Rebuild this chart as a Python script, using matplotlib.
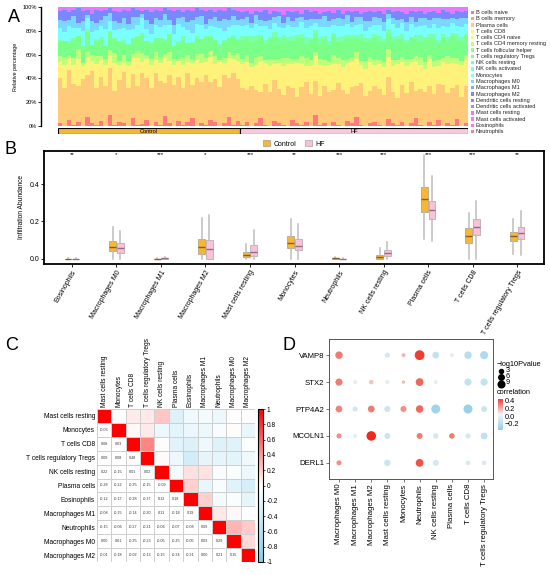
import numpy as np
import matplotlib
matplotlib.use("Agg")
import matplotlib.pyplot as plt
from matplotlib.patches import Patch, Rectangle
from matplotlib.colors import LinearSegmentedColormap, TwoSlopeNorm, Normalize, hsv_to_rgb
from matplotlib.lines import Line2D

# ---------------- DATA ----------------
cell_types = ["B cells naive", "B cells memory", "Plasma cells", "T cells CD8", "T cells CD4 naive",
              "T cells CD4 memory resting", "T cells follicular helper", "T cells regulatory Tregs",
              "NK cells resting", "NK cells activated", "Monocytes", "Macrophages M0", "Macrophages M1",
              "Macrophages M2", "Dendritic cells resting", "Dendritic cells activated", "Mast cells resting",
              "Mast cells activated", "Eosinophils", "Neutrophils"]

# Panel A: per-sample fractions (percent, before normalisation) for the visible cell types
ctrl_bn = [2,0,5,1,3,0,7,2,1,4, 0,9,1,3,2,0,6,1,2,5, 0,3,1,8,2,0,4,1,3,6, 0,2,1,5,3,0,2,7,1,4]
ctrl_pl = [34,29,38,31,27,36,33,40,28,35, 31,37,26,33,39,30,35,28,41,32, 29,36,34,27,38,31,33,30,37,26, 35,32,39,29,34,28,36,31,40,33]
ctrl_c8 = [12,18,9,15,21,10,14,8,19,13, 16,11,22,12,7,17,13,20,9,15, 18,10,14,21,11,16,12,19,8,17, 13,15,10,20,12,18,9,16,11,14]
ctrl_c4 = [4,6,3,5,7,2,5,4,6,3, 5,4,8,3,6,4,2,5,7,3, 4,6,5,3,7,4,2,6,5,3, 4,7,3,5,6,2,4,5,3,6]
ctrl_tr = [11,13,9,14,10,12,15,8,12,13, 10,14,11,16,9,12,13,10,14,11, 12,9,15,11,13,10,12,14,9,13, 11,12,16,10,13,9,12,11,14,10]
ctrl_nk = [1,0,2,1,0,1,3,0,1,2, 0,1,1,0,2,1,0,1,2,0, 1,1,0,2,1,0,1,3,0,1, 2,0,1,1,0,2,1,0,1,1]
ctrl_mo = [9,7,11,8,6,12,8,10,7,9, 13,8,6,10,9,11,7,8,12,9, 6,10,8,11,7,9,13,8,10,7, 9,11,6,8,10,12,7,9,8,11]
ctrl_m0 = [6,8,5,9,4,7,3,8,6,5, 10,6,7,4,8,5,9,6,3,7, 8,5,6,9,4,7,5,8,6,10, 5,7,4,6,8,5,9,6,7,4]
ctrl_m2 = [7,9,6,5,11,8,4,6,10,7, 5,4,8,9,6,10,7,5,3,8, 9,6,7,5,8,11,6,4,9,7, 6,5,10,7,4,8,6,9,5,7]
ctrl_ms = [3,2,4,2,1,3,2,5,2,3, 2,1,3,4,2,3,1,2,3,2, 4,2,3,1,2,3,2,4,2,3, 1,2,3,2,4,2,3,1,2,3]

hf_bn = [1,3,0,2,6,1,0,4,2,1, 0,5,2,1,3,0,8,1,2,0, 3,1,0,4,2,7,1,0,2,3, 1,0,5,2,1,3,0,2,6,1, 0,3,1,4,0,2,1,5,0,2]
hf_pl = [27,23,30,25,21,28,24,32,26,22, 29,25,20,27,31,24,26,22,28,25, 23,30,26,21,27,24,29,22,25,28, 26,23,31,24,20,27,25,29,22,26, 24,28,21,26,30,23,27,25,22,28]
hf_c8 = [17,21,14,19,24,15,18,13,20,22, 16,19,25,17,12,21,18,23,15,20, 19,14,17,24,18,21,13,20,22,16, 18,21,15,19,26,17,20,14,23,18, 16,21,19,13,17,22,18,15,24,19]
hf_c4 = [4,5,3,6,4,2,5,4,3,6, 5,4,3,5,6,4,3,5,4,2, 6,4,5,3,4,5,3,6,4,5, 3,4,6,5,3,4,5,2,4,6, 5,3,4,5,3,6,4,5,3,4]
hf_tr = [14,12,16,13,15,11,14,17,13,15, 12,14,16,13,11,15,14,12,16,13, 15,12,14,17,13,11,15,14,12,16, 13,15,12,14,16,13,11,15,14,12, 16,13,15,12,14,11,16,13,15,14]
hf_nk = [3,2,4,3,2,3,1,4,3,2, 3,4,2,3,5,2,3,4,2,3, 1,3,4,2,3,2,4,3,2,3, 4,2,3,3,2,4,3,1,3,4, 2,3,4,2,3,3,2,4,3,2]
hf_mo = [7,8,6,9,7,10,6,7,8,5, 9,7,6,8,7,9,5,8,7,10, 6,8,7,9,6,8,7,5,9,7, 8,6,7,10,6,8,7,9,6,7, 8,5,7,9,6,8,7,6,8,7]
hf_m0 = [5,6,4,7,5,3,6,5,8,4, 6,5,7,4,6,5,3,6,8,5, 4,6,5,7,4,6,5,8,4,6, 5,7,4,5,6,3,7,5,4,6, 5,6,4,7,5,6,4,5,7,5]
hf_m2 = [5,4,7,3,6,8,4,5,3,6, 4,7,5,2,8,5,6,4,3,7, 5,6,4,3,7,5,2,6,8,4, 5,6,3,4,7,5,6,4,8,5, 3,6,5,4,7,5,3,6,4,5]
hf_ms = [4,3,5,3,4,2,5,3,4,6, 3,4,3,5,2,4,3,5,4,3, 4,2,5,3,4,3,5,4,3,4, 3,5,2,4,3,4,5,3,4,3, 5,4,3,4,2,4,5,3,4,3]

groups = ["Control", "HF"]

# Panel B: boxplot statistics (q1, median, q3, whisker low, whisker high)
b_types = ["Eosinophils", "Macrophages M0", "Macrophages M1", "Macrophages M2", "Mast cells resting",
           "Monocytes", "Neutrophils", "NK cells resting", "Plasma cells", "T cells CD8",
           "T cells regulatory Tregs"]
ctrl_q1  = [0.0, 0.040, 0.0, 0.025, 0.008, 0.055, 0.0, 0.000, 0.253, 0.083, 0.095]
ctrl_med = [0.0, 0.065, 0.0, 0.065, 0.022, 0.085, 0.002, 0.010, 0.319, 0.120, 0.122]
ctrl_q3  = [0.001, 0.095, 0.001, 0.105, 0.038, 0.122, 0.004, 0.022, 0.387, 0.165, 0.145]
ctrl_lo  = [0.0, 0.0, 0.0, 0.0, 0.0, 0.0, 0.0, 0.0, 0.106, 0.0, 0.025]
ctrl_hi  = [0.002, 0.170, 0.002, 0.220, 0.080, 0.215, 0.007, 0.060, 0.557, 0.245, 0.215]
hf_q1  = [0.0, 0.030, 0.0, 0.0, 0.015, 0.045, 0.0, 0.015, 0.215, 0.128, 0.105]
hf_med = [0.0, 0.055, 0.002, 0.050, 0.035, 0.070, 0.0, 0.028, 0.260, 0.170, 0.140]
hf_q3  = [0.001, 0.085, 0.005, 0.100, 0.072, 0.105, 0.001, 0.045, 0.310, 0.215, 0.170]
hf_lo  = [0.0, 0.0, 0.0, 0.0, 0.0, 0.0, 0.0, 0.0, 0.097, 0.0, 0.018]
hf_hi  = [0.002, 0.150, 0.010, 0.235, 0.155, 0.185, 0.002, 0.088, 0.445, 0.310, 0.255]
b_signif = ["**", "*", "***", "*", "***", "**", "***", "***", "***", "***", "**"]

# Panel C: correlation matrix (lower triangle rows)
c_types = ["Mast cells resting", "Monocytes", "T cells CD8", "T cells regulatory Tregs", "NK cells resting",
           "Plasma cells", "Eosinophils", "Macrophages M1", "Neutrophils", "Macrophages M0", "Macrophages M2"]
c_lower = [
    [],
    [-0.03],
    [0.08, 0.03],
    [0.09, 0.08, 0.48],
    [0.22, -0.15, 0.01, 0.02],
    [-0.28, -0.22, -0.25, -0.15, -0.09],
    [-0.12, -0.17, -0.28, -0.37, 0.12, 0.18],
    [-0.08, -0.15, -0.14, -0.20, 0.11, -0.18, 0.19],
    [-0.15, -0.06, -0.27, -0.21, -0.06, -0.07, -0.08, 0.09],
    [0.00, 0.01, -0.25, -0.23, -0.05, -0.25, -0.05, 0.03, 0.29],
    [-0.01, -0.18, -0.02, -0.13, -0.15, -0.34, -0.21, 0.00, 0.21, 0.15],
]

# Panel D: gene vs immune cell correlation dot plot
d_genes = ["VAMP8", "STX2", "PTP4A2", "MCOLN1", "DERL1"]
d_cells = ["Macrophages M0", "Macrophages M1", "Macrophages M2", "Mast cells resting", "Monocytes",
           "Neutrophils", "NK cells resting", "Plasma cells", "T cells CD8", "T cells regulatory Tregs"]
nan = np.nan
d_corr = [
    [0.30, nan, nan, -0.10, 0.15, 0.45, -0.15, -0.05, -0.18, -0.20],
    [0.30, -0.05, 0.12, -0.05, 0.15, 0.35, -0.05, nan, -0.15, -0.15],
    [0.28, -0.10, 0.30, -0.12, 0.25, 0.35, -0.25, nan, -0.27, -0.12],
    [0.25, -0.05, 0.50, -0.12, nan, 0.30, -0.10, 0.30, -0.10, -0.15],
    [0.25, nan, nan, -0.12, nan, 0.40, -0.10, nan, -0.08, -0.08],
]
d_logp = [
    [5.0, nan, nan, 2.0, 1.0, 9.0, 4.0, 1.0, 5.0, 6.0],
    [4.5, 1.0, 1.5, 1.0, 0.5, 5.5, 1.0, nan, 4.5, 4.5],
    [4.0, 2.0, 4.0, 3.0, 3.0, 5.0, 7.5, nan, 7.5, 3.0],
    [2.0, 1.0, 8.5, 3.0, nan, 3.0, 2.5, 2.5, 2.0, 4.0],
    [2.0, nan, nan, 3.5, nan, 5.5, 3.0, nan, 1.5, 1.5],
]
size_legend = [3, 6, 9]

# ---------------- FIGURE ----------------
W, H = 550, 575
fig = plt.figure(figsize=(5.5, 5.75), dpi=100)
plt.rcParams["font.family"] = ["Liberation Sans", "DejaVu Sans"]


def ax_px(x0, y0, x1, y1):
    return fig.add_axes([x0 / W, 1 - y1 / H, (x1 - x0) / W, (y1 - y0) / H])


def fx(x):
    return x / W


def fy(y):
    return 1 - y / H


# rainbow palette with transparency on white
def rainbow_light(n, alpha=0.5):
    cols = []
    for i in range(n):
        rgb = hsv_to_rgb([i / n, 1.0, 1.0])
        cols.append(tuple(alpha * rgb + (1 - alpha)))
    return cols


pal = rainbow_light(len(cell_types), 0.52)

# ---- Panel A ----
axA = ax_px(57.7, 7, 468.3, 126)
stack = {
    "B cells naive": ctrl_bn + hf_bn,
    "Plasma cells": ctrl_pl + hf_pl,
    "T cells CD8": ctrl_c8 + hf_c8,
    "T cells CD4 memory resting": ctrl_c4 + hf_c4,
    "T cells regulatory Tregs": ctrl_tr + hf_tr,
    "NK cells resting": ctrl_nk + hf_nk,
    "Monocytes": ctrl_mo + hf_mo,
    "Macrophages M0": ctrl_m0 + hf_m0,
    "Macrophages M2": ctrl_m2 + hf_m2,
    "Mast cells resting": ctrl_ms + hf_ms,
}
n_ctrl = len(ctrl_pl)
n_hf = len(hf_pl)
n = n_ctrl + n_hf
total = np.sum([np.array(v, float) for v in stack.values()], axis=0)
xs = np.arange(n)
bottom = np.zeros(n)
for i, ct in enumerate(cell_types):
    if ct not in stack:
        continue
    vals = np.array(stack[ct], float) / total * 100
    axA.bar(xs, vals, bottom=bottom, width=1.0, color=pal[i], linewidth=0)
    bottom += vals
axA.set_xlim(-0.5, n - 0.5)
axA.set_ylim(0, 100)
for s in ["top", "right", "bottom"]:
    axA.spines[s].set_visible(False)
axA.spines["left"].set_position(("outward", 12))
axA.spines["left"].set_linewidth(1.0)
axA.set_xticks([])
axA.set_yticks([0, 20, 40, 60, 80, 100])
axA.set_yticklabels(["0%", "20%", "40%", "60%", "80%", "100%"], fontsize=4.1)
axA.tick_params(axis="y", length=2, width=0.6, pad=1)
axA.set_ylabel("Relative percentage", fontsize=3.9, labelpad=3)

# group annotation bar
axG = ax_px(57.7, 128.3, 468.3, 134.3)
axG.barh([0], [n_ctrl], left=[-0.5], height=1, color="#F5B731", edgecolor="black", linewidth=0.8)
axG.barh([0], [n_hf], left=[n_ctrl - 0.5], height=1, color="#F9C8DC", edgecolor="black", linewidth=0.8)
axG.text((n_ctrl - 1) / 2, 0, groups[0], ha="center", va="center", fontsize=4.1)
axG.text(n_ctrl + (n_hf - 1) / 2, 0, groups[1], ha="center", va="center", fontsize=4.1)
axG.set_xlim(-0.5, n - 0.5)
axG.set_ylim(-0.5, 0.5)
axG.axis("off")

# legend A
leg_y0 = 12.5
leg_dy = 6.27
for i, ct in enumerate(cell_types):
    y = leg_y0 + i * leg_dy
    fig.patches.append(Rectangle((fx(470.5), fy(y + 1.7)), 3.4 / W, 3.4 / H, transform=fig.transFigure,
                                 facecolor=pal[i], edgecolor="none"))
    fig.text(fx(475.5), fy(y), ct, fontsize=4.1, va="center", ha="left", color="#222222")

fig.text(fx(8), fy(18), "A", fontsize=13, ha="left", va="center")

# ---- Panel B ----
axB = ax_px(44.3, 151, 544.3, 264)
c_ctrl = "#F7B733"
c_hf = "#F8C3D8"
stats_c, stats_h = [], []
for i in range(len(b_types)):
    stats_c.append(dict(q1=ctrl_q1[i], med=ctrl_med[i], q3=ctrl_q3[i], whislo=ctrl_lo[i], whishi=ctrl_hi[i], fliers=[]))
    stats_h.append(dict(q1=hf_q1[i], med=hf_med[i], q3=hf_q3[i], whislo=hf_lo[i], whishi=hf_hi[i], fliers=[]))
pos = np.arange(len(b_types))
common = dict(widths=0.15, patch_artist=True, showfliers=False, showcaps=False,
              whiskerprops=dict(color="#bdbdbd", linewidth=1.1))
axB.bxp(stats_c, positions=pos - 0.085, boxprops=dict(facecolor=c_ctrl, edgecolor="#a89a8a", linewidth=0.5),
        medianprops=dict(color="#8a5a20", linewidth=1.0), **common)
axB.bxp(stats_h, positions=pos + 0.085, boxprops=dict(facecolor=c_hf, edgecolor="#b0a0a8", linewidth=0.5),
        medianprops=dict(color="#9a6a80", linewidth=1.0), **common)
for i, s in enumerate(b_signif):
    axB.text(pos[i], 0.561, s, ha="center", va="center", fontsize=4.5)
axB.set_xlim(-0.62, len(b_types) - 0.39)
axB.set_ylim(-0.0285, 0.579)
axB.set_xticks(pos)
axB.set_xticklabels(b_types, rotation=60, ha="right", rotation_mode="anchor", fontsize=5.0)
axB.set_yticks([0.0, 0.2, 0.4])
axB.set_yticklabels(["0.0", "0.2", "0.4"], fontsize=5.0)
axB.tick_params(length=2, width=0.6, pad=1.5)
axB.set_ylabel("Infiltration Abundance", fontsize=4.8, labelpad=3)
for s in axB.spines.values():
    s.set_linewidth(1.3)
fig.legend(handles=[Patch(facecolor=c_ctrl, edgecolor="#a89a8a", linewidth=0.5, label=groups[0]),
                    Patch(facecolor=c_hf, edgecolor="#b0a0a8", linewidth=0.5, label=groups[1])],
           loc="center", bbox_to_anchor=(fx(294), fy(144)), ncol=2, frameon=False, fontsize=5.0,
           handlelength=1.0, handleheight=0.9, columnspacing=1.2, handletextpad=0.5)
fig.text(fx(5), fy(150), "B", fontsize=13, ha="left", va="center")

# ---- Panel C ----
axC = ax_px(97, 409, 255, 562)
nc = len(c_types)
M = np.eye(nc)
for i, row in enumerate(c_lower):
    for j, v in enumerate(row):
        M[i, j] = v
        M[j, i] = v
cmapC = LinearSegmentedColormap.from_list("cC", ["#87CEEB", "#FFFFFF", "#FF0000"])
upper = np.ma.masked_where(np.tril(np.ones_like(M), -1) == 1, M)
lower = np.ma.masked_where(np.tril(np.ones_like(M), -1) == 0, np.zeros_like(M))
mC = axC.pcolormesh(np.arange(nc + 1), np.arange(nc + 1), upper, cmap=cmapC, vmin=-1, vmax=1)
axC.pcolormesh(np.arange(nc + 1), np.arange(nc + 1), lower, cmap=LinearSegmentedColormap.from_list("w", ["white", "white"]),
               edgecolors="#cfcfcf", linewidth=0.5)
for i in range(nc):
    for j in range(i):
        axC.text(j + 0.5, i + 0.5, f"{M[i, j]:.2f}", ha="center", va="center", fontsize=2.7, color="#333333")
axC.set_xlim(0, nc)
axC.set_ylim(nc, 0)
axC.set_xticks(np.arange(nc) + 0.5)
axC.set_xticklabels(c_types, rotation=90, fontsize=4.8)
axC.xaxis.tick_top()
axC.set_yticks(np.arange(nc) + 0.5)
axC.set_yticklabels(c_types, fontsize=4.8)
axC.tick_params(length=0, pad=1.5)
for s in axC.spines.values():
    s.set_visible(False)
caxC = ax_px(258, 409, 263, 562)
cbC = fig.colorbar(mC, cax=caxC)
ticksC = np.round(np.arange(-1, 1.01, 0.2), 1)
cbC.set_ticks(ticksC)
cbC.set_ticklabels([f"{t:g}" if t != 0 else "0" for t in ticksC])
caxC.tick_params(labelsize=4.8, length=1.5, width=0.5, pad=1)
cbC.outline.set_linewidth(0.8)
fig.text(fx(5), fy(345), "C", fontsize=13, ha="left", va="center")

# ---- Panel D ----
axD = ax_px(329, 339, 493, 479)
cmapD = LinearSegmentedColormap.from_list("cD", ["#8ecfe8", "#f4f4f4", "#ee2a1a"])
normD = TwoSlopeNorm(vmin=-0.3, vcenter=0.0, vmax=0.5)


def psize(p):
    return 3.0 + 5.2 * np.asarray(p, float)


gx, gy, gc, gs = [], [], [], []
for gi, g in enumerate(d_genes):
    for ci, c in enumerate(d_cells):
        if np.isnan(d_corr[gi][ci]):
            continue
        gx.append(ci)
        gy.append(gi)
        gc.append(d_corr[gi][ci])
        gs.append(d_logp[gi][ci])
mD = axD.scatter(gx, gy, c=gc, s=psize(gs), cmap=cmapD, norm=normD, linewidths=0)
axD.set_xlim(-0.62, len(d_cells) - 0.45)
axD.set_ylim(len(d_genes) - 0.4, -0.6)
axD.set_xticks(np.arange(len(d_cells)))
axD.set_xticklabels(d_cells, rotation=90, fontsize=5.7)
axD.set_yticks(np.arange(len(d_genes)))
axD.set_yticklabels(d_genes, fontsize=5.6)
axD.tick_params(length=2, width=0.5, pad=1.5, color="#444444")
for s in axD.spines.values():
    s.set_linewidth(0.7)
    s.set_color("#555555")
fig.text(fx(283), fy(345), "D", fontsize=13, ha="left", va="center")

# size legend
fig.text(fx(497), fy(364.5), "\u2212log10Pvalue", fontsize=5.3, ha="left", va="center")
leg_ys = [370.5, 376.5, 383.5]
for p, yy in zip(size_legend, leg_ys):
    fig.lines.append(Line2D([fx(500.5)], [fy(yy)], marker="o", color="black", linestyle="none",
                            markersize=0.68 * np.sqrt(psize(p)), transform=fig.transFigure))
    fig.text(fx(506), fy(yy - 0.5), str(p), fontsize=5.3, ha="left", va="center")
fig.text(fx(497), fy(392.5), "correlation", fontsize=5.3, ha="left", va="center")
caxD = ax_px(498, 399, 503, 430)
smD = plt.cm.ScalarMappable(norm=Normalize(-0.37, 0.45), cmap=LinearSegmentedColormap.from_list(
    "cD2", [cmapD(normD(-0.37)), cmapD(normD(0.0)), cmapD(normD(0.45))]))
cbD = fig.colorbar(smD, cax=caxD)
cbD.set_ticks([0.4, 0.2, 0.0, -0.2])
cbD.set_ticklabels(["0.4", "0.2", "0.0", "\u22120.2"])
cbD.outline.set_visible(False)
caxD.tick_params(labelsize=5.3, length=0, pad=1.5)

fig.savefig("out.png", dpi=100)
